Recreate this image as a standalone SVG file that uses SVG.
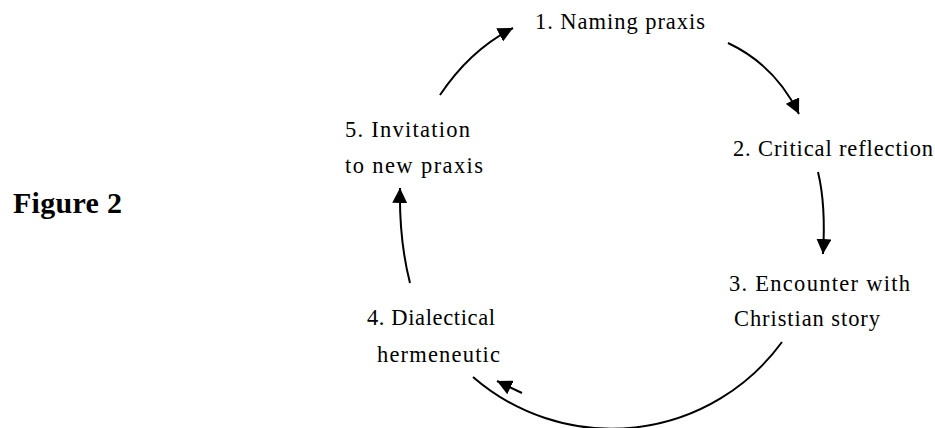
<svg xmlns="http://www.w3.org/2000/svg" width="935" height="428" viewBox="0 0 935 428">
<style>
text{font-family:"Liberation Serif","Times New Roman",serif;font-size:22.5px;fill:#000}
.fig{font-weight:bold;font-size:30px}
.c{fill:none;stroke:#000;stroke-width:2}
</style>
<defs>
<marker id="ah" markerUnits="userSpaceOnUse" markerWidth="16" markerHeight="15" refX="15" refY="7.5" orient="auto">
<path d="M0,0 L15,7.5 L0,15 Z" fill="#000"/>
</marker>
</defs>
<rect width="935" height="428" fill="#fff"/>
<g id="title"><text class="fig" x="13" y="213" textLength="109">Figure 2</text></g>
<g id="n1"><text x="535" y="29" textLength="170">1. Naming praxis</text></g>
<g id="n2"><text x="733" y="156" textLength="200">2. Critical reflection</text></g>
<g id="n3"><text x="729" y="291" textLength="181">3. Encounter with</text><text x="734" y="326" textLength="146">Christian story</text></g>
<g id="n4"><text x="367" y="325" textLength="128">4. Dialectical</text><text x="377" y="362" textLength="123">hermeneutic</text></g>
<g id="n5"><text x="345" y="137" textLength="125">5. Invitation</text><text x="345" y="173" textLength="138">to new praxis</text></g>
<g id="connectors">
<path class="c" d="M440,95 Q470,50 513,28" marker-end="url(#ah)"/>
<path class="c" d="M728,43 Q775,65 799,114" marker-end="url(#ah)"/>
<path class="c" d="M818,172 Q826,205 823,254" marker-end="url(#ah)"/>
<path class="c" d="M782,342 A211,211 0 0 1 473,377"/>
<path class="c" d="M522,393 L497,381" marker-end="url(#ah)"/>
<path class="c" d="M410,283 Q399,240 400,188" marker-end="url(#ah)"/>
</g>
</svg>
